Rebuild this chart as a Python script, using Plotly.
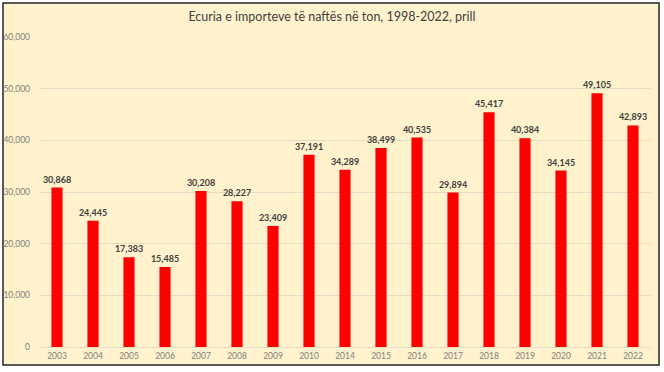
import plotly.graph_objects as go

years = ["2003", "2004", "2005", "2006", "2007", "2008", "2009", "2010", "2014",
         "2015", "2016", "2017", "2018", "2019", "2020", "2021", "2022"]
values = [30868, 24445, 17383, 15485, 30208, 28227, 23409, 37191, 34289,
          38499, 40535, 29894, 45417, 40384, 34145, 49105, 42893]
tick_vals = [0, 10000, 20000, 30000, 40000, 50000, 60000]

W, H = 664, 372
L, R, T, B = 39, 13, 37, 25
pw, ph = W - L - R, H - T - B

def px_x(x):
    return (x - L) / pw

def px_y(y):
    return (H - B - y) / ph

fig = go.Figure(go.Bar(
    x=years, y=values,
    marker=dict(color="#FF0000", line=dict(width=0)),
    text=[f"{v:,}" for v in values],
    textposition="outside",
    constraintext="none",
    textfont=dict(family="Lato", size=9, color="#404040", weight="bold"),
    cliponaxis=False,
    width=0.31,
    hoverinfo="skip",
))

fig.update_layout(
    width=W, height=H,
    margin=dict(l=L, r=R, t=T, b=B, autoexpand=False),
    paper_bgcolor="white",
    plot_bgcolor="rgba(0,0,0,0)",
    showlegend=False,
    title=dict(text="Ecuria e importeve të naftës në ton, 1998-2022, prill",
               x=0.5, xanchor="center", y=1 - 17 / H, yanchor="middle",
               font=dict(family="Lato", size=12.5, color="#404040")),
    font=dict(family="Lato"),
    xaxis=dict(type="category", showgrid=False, showline=False, ticks="",
               automargin=False,
               tickfont=dict(size=8.5, color="#7f7f7f"), ticklabelstandoff=2),
    yaxis=dict(range=[0, 60000], tickvals=tick_vals, tickformat=",",
               automargin=False,
               showgrid=True, gridcolor="#E3DCC2", gridwidth=1,
               zeroline=True, zerolinecolor="#E3DCC2", zerolinewidth=1,
               showline=False, ticks="",
               tickfont=dict(size=8.5, color="#7f7f7f"), ticklabelstandoff=8),
    shapes=[dict(type="rect", xref="paper", yref="paper",
                 x0=px_x(3), x1=px_x(659), y0=px_y(365), y1=px_y(3),
                 fillcolor="#FFF2CC", line=dict(color="#262626", width=1.5),
                 layer="below")],
)

fig.write_html("out.html",
               config={"displayModeBar": False},
               post_script="document.body.style.margin='0';document.body.style.overflow='hidden';")
